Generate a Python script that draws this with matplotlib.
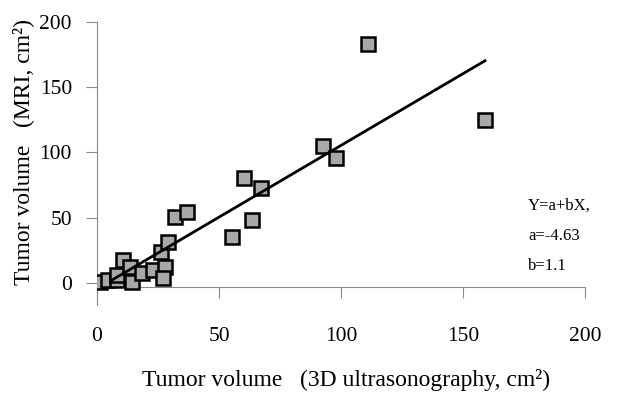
import matplotlib
matplotlib.use("Agg")
import matplotlib.pyplot as plt
import numpy as np

# tumor volume, 3D ultrasonography vs MRI (cm2)
us_vol = [1.2, 4.5, 8.2, 10.7, 8.2, 13.5, 14.3, 18.4, 23.0, 27.9, 27.0, 26.2,
          29.1, 32.0, 36.9, 55.3, 63.5, 60.2, 67.2, 92.6, 98.0, 111.0, 159.0]
mri_vol = [0.8, 2.3, 2.3, 17.6, 6.1, 12.3, 0.8, 7.7, 10.0, 12.3, 3.8, 23.8,
           31.4, 50.6, 54.4, 35.2, 48.3, 80.5, 72.8, 105.0, 95.8, 183.0, 125.0]
a = -4.63
b = 1.1
eq_lines = ["Y=a+bX,", "a=-4.63", "b=1.1"]
ticks = [0, 50, 100, 150, 200]

plt.rcParams['font.family'] = ['Liberation Serif', 'DejaVu Serif']

fig = plt.figure(figsize=(6.18, 3.96), dpi=100)
ax = fig.add_axes([97/618, 1-305/396, 488/618, 283/396])

ax.plot(us_vol, mri_vol, "s", markersize=9.5, markerfacecolor="#a8a8a8",
        markeredgecolor="black", markeredgewidth=1.8, zorder=3)

xl = np.array([min(us_vol) + 5, max(us_vol)])
ax.plot(xl, a + b*xl, color="black", lw=2, zorder=4)

ax.set_xlim(0, 200)
ax.set_ylim(-17, 200)
ax.set_xticks(ticks)
ax.set_yticks(ticks)

for s in ["top", "right"]:
    ax.spines[s].set_visible(False)
ax.spines["bottom"].set_position(("data", -3))
ax.spines["left"].set_color("#888888")
ax.spines["bottom"].set_color("#888888")
ax.tick_params(axis="x", direction="out", length=8, color="#888888",
               pad=21, labelsize=15.5)
ax.tick_params(axis="y", direction="out", length=8, color="#888888",
               pad=10, labelsize=15.5)

ax.set_xlabel("Tumor volume   (3D ultrasonography, cm²)", fontsize=17)
ax.xaxis.set_label_coords(0.51, -0.225)
ax.set_ylabel("Tumor volume   (MRI, cm²)", fontsize=17)
ax.yaxis.set_label_coords(-0.13, 0.54)

for i, t in enumerate(eq_lines):
    ax.text(0.883, 0.35 - i*0.106, t, transform=ax.transAxes, fontsize=12,
            va="center", ha="left")

fig.savefig("out.png", dpi=100)
